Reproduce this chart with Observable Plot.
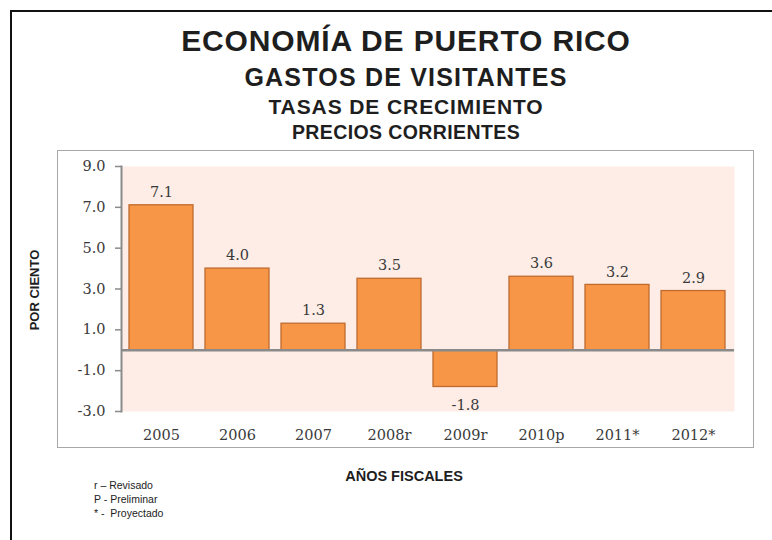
<!DOCTYPE html>
<html>
<head>
<meta charset="utf-8">
<script src="https://cdn.jsdelivr.net/npm/d3@7"></script>
<script src="https://cdn.jsdelivr.net/npm/@observablehq/plot@0.6"></script>
<style>
  html, body { margin: 0; padding: 0; background: #fff; }
  #page { position: relative; width: 772px; height: 540px; overflow: hidden; background: #fff; font-family: "Liberation Sans", Arial, sans-serif; color: #1e1e1e; }
  .outer { position: absolute; left: 10px; top: 10px; right: -10px; bottom: -10px; border: 2px solid #111; }
  .inner { position: absolute; left: 57px; top: 150px; width: 697px; height: 298px; border: 1.5px solid #a8a8a8; box-sizing: border-box; }
  .t { position: absolute; left: 0; width: 812px; text-align: center; font-weight: bold; white-space: nowrap; }
  #chart { position: absolute; left: 0; top: 151px; }
  .ylab { position: absolute; left: 33.5px; top: 290px; transform: translate(-50%, -50%) rotate(-90deg); font-weight: bold; font-size: 13px; white-space: nowrap; }
  .xlab { position: absolute; left: 404px; top: 476px; transform: translate(-50%, -50%); font-weight: bold; font-size: 14.5px; white-space: nowrap; }
  .notes { position: absolute; left: 94px; top: 478px; font-size: 10.5px; line-height: 14px; color: #222; }
</style>
</head>
<body>
<div id="page">
  <div class="outer"></div>
  <div class="t" style="top:24px;font-size:30px;letter-spacing:0.85px;">ECONOMÍA DE PUERTO RICO</div>
  <div class="t" style="top:63px;font-size:25px;letter-spacing:1.2px;">GASTOS DE VISITANTES</div>
  <div class="t" style="top:95px;font-size:21px;letter-spacing:0.9px;">TASAS DE CRECIMIENTO</div>
  <div class="t" style="top:121px;font-size:19.5px;letter-spacing:0.4px;">PRECIOS CORRIENTES</div>
  <div class="inner"></div>
  <div id="chart"></div>
  <div class="ylab">POR CIENTO</div>
  <div class="xlab">AÑOS FISCALES</div>
  <div class="notes">r – Revisado<br>P - Preliminar<br>* -&nbsp; Proyectado</div>
</div>
<script>
const years = ["2005", "2006", "2007", "2008r", "2009r", "2010p", "2011*", "2012*"];
const growth = [7.1, 4.0, 1.3, 3.5, -1.8, 3.6, 3.2, 2.9];
const yTicks = [-3, -1, 1, 3, 5, 7, 9];

const data = years.map((year, i) => ({year, value: growth[i]}));
const fmt = d => d.toFixed(1);

const chart = Plot.plot({
  width: 772,
  height: 298,
  marginLeft: 121,
  marginRight: 38,
  marginTop: 15,
  marginBottom: 38,
  style: {fontFamily: "'DejaVu Serif', serif", fontSize: "14.5px", color: "#3a3a3a", background: "transparent", overflow: "visible"},
  x: {domain: years, paddingInner: 0.154, paddingOuter: 0.083, label: null},
  y: {domain: [-3, 9], ticks: yTicks, label: null},
  marks: [
    Plot.frame({fill: "#fdede6", stroke: null}),
    Plot.barY(data, {x: "year", y: "value", fill: "#f79646", stroke: "#c06a30", strokeWidth: 1.3}),
    Plot.ruleY([0], {stroke: "#8a8a8a", strokeWidth: 2.5}),
    Plot.frame({anchor: "left", stroke: "#8a8a8a", strokeWidth: 2}),
    Plot.axisY({ticks: yTicks, tickFormat: fmt, tickSize: 6, tickPadding: 10, stroke: "#8a8a8a", strokeWidth: 1.5, label: null}),
    Plot.axisX({tickSize: 0, tickPadding: 18, label: null}),
    Plot.text(data.filter(d => d.value >= 0), {x: "year", y: "value", text: d => fmt(d.value), dy: -13, fill: "#3a3a3a"}),
    Plot.text(data.filter(d => d.value < 0), {x: "year", y: "value", text: d => fmt(d.value), dy: 18, fill: "#3a3a3a"})
  ]
});
document.getElementById("chart").appendChild(chart);
</script>
</body>
</html>
